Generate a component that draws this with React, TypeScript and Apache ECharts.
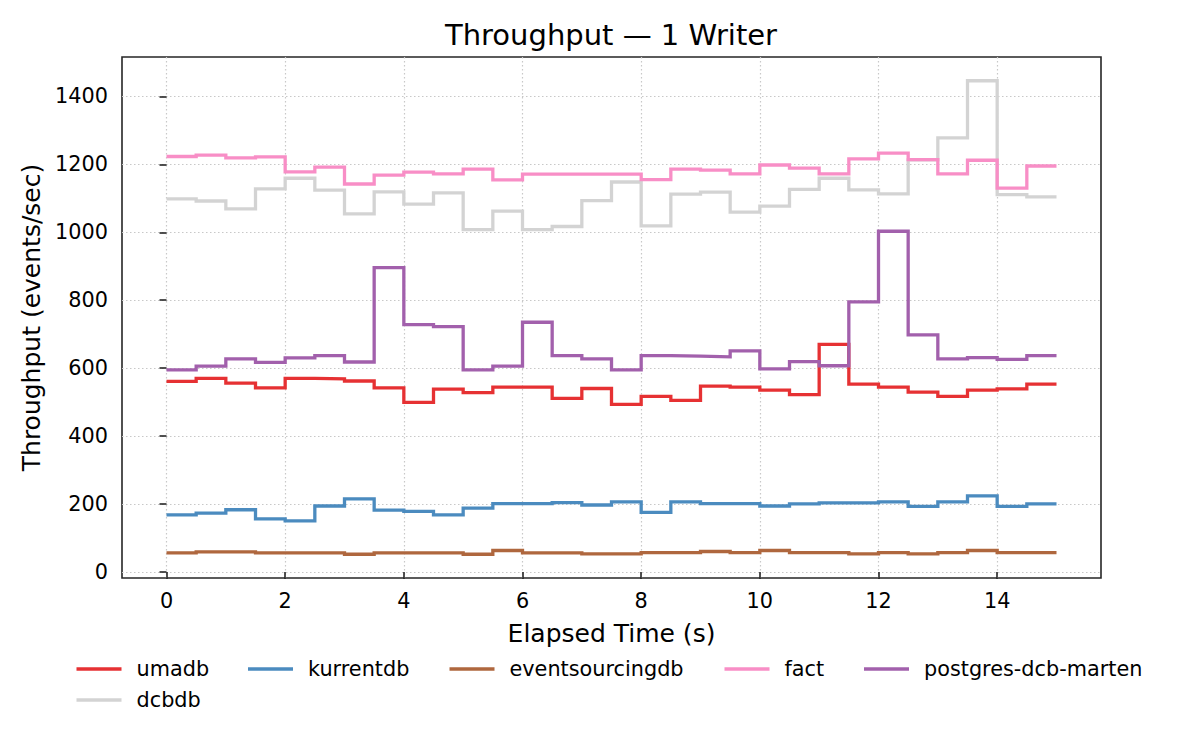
import React, { useEffect, useRef } from "react";
import * as echarts from "echarts";

const times = [0, 0.5, 1, 1.5, 2, 2.5, 3, 3.5, 4, 4.5, 5, 5.5, 6, 6.5, 7, 7.5, 8, 8.5, 9, 9.5, 10, 10.5, 11, 11.5, 12, 12.5, 13, 13.5, 14, 14.5, 15];

const umadb = [561, 570, 556, 542, 570, 568, 562, 542, 499, 538, 528, 544, 544, 511, 540, 493, 517, 505, 547, 544, 535, 522, 670, 553, 544, 529, 517, 535, 539, 553];
const kurrentdb = [168, 173, 183, 156, 150, 194, 215, 182, 178, 168, 188, 201, 201, 204, 197, 206, 175, 206, 201, 201, 194, 200, 203, 203, 206, 193, 206, 224, 193, 200];
const eventsourcingdb = [56, 59, 59, 56, 56, 56, 52, 56, 56, 56, 52, 63, 56, 56, 53, 53, 57, 57, 60, 57, 63, 57, 57, 53, 57, 53, 57, 63, 57, 57];
const fact = [1223, 1227, 1219, 1222, 1178, 1192, 1142, 1168, 1177, 1172, 1186, 1154, 1171, 1171, 1171, 1171, 1155, 1186, 1183, 1172, 1198, 1189, 1172, 1216, 1233, 1214, 1172, 1212, 1130, 1195];
const postgresDcbMarten = [595, 606, 627, 617, 630, 637, 618, 896, 728, 722, 595, 606, 735, 637, 627, 595, 637, 635, 633, 651, 598, 619, 607, 795, 1003, 698, 627, 631, 626, 637];
const dcbdb = [1098, 1092, 1069, 1128, 1159, 1124, 1054, 1119, 1083, 1116, 1008, 1062, 1008, 1017, 1093, 1148, 1019, 1112, 1118, 1059, 1077, 1126, 1159, 1125, 1113, 1213, 1278, 1446, 1111, 1104];

const xTicks = [0, 2, 4, 6, 8, 10, 12, 14];
const yTicks = [0, 200, 400, 600, 800, 1000, 1200, 1400];

const seriesDefs = [
  { name: "umadb", values: umadb, color: "#e63133", z: 2 },
  { name: "kurrentdb", values: kurrentdb, color: "#4b8bbf", z: 2 },
  { name: "eventsourcingdb", values: eventsourcingdb, color: "#af673e", z: 2 },
  { name: "fact", values: fact, color: "#f88ec6", z: 2 },
  { name: "postgres-dcb-marten", values: postgresDcbMarten, color: "#a260ac", z: 2 },
  { name: "dcbdb", values: dcbdb, color: "#d3d3d3", z: 1 },
];

const legendCols = [
  { names: ["umadb", "dcbdb"], left: 76.5 },
  { names: ["kurrentdb"], left: 248 },
  { names: ["eventsourcingdb"], left: 449.5 },
  { names: ["fact"], left: 724.5 },
  { names: ["postgres-dcb-marten"], left: 864 },
];

const FONT = "DejaVu Sans";

export default function App() {
  const ref = useRef<HTMLDivElement>(null);
  useEffect(() => {
    if (!ref.current) return;
    const chart = echarts.init(ref.current, null, { renderer: "svg" });
    const series = seriesDefs.map((s) => ({
      name: s.name,
      type: "line",
      step: "end",
      symbol: "none",
      showSymbol: false,
      silent: true,
      z: s.z,
      color: s.color,
      data: [
        ...s.values.map((v, i) => [times[i], v]),
        [times[s.values.length], s.values[s.values.length - 1]],
      ],
      lineStyle: { color: s.color, width: 3.3, join: "miter", cap: "butt" },
      itemStyle: { color: s.color },
    }));
    const tickLine = { color: "#262626", width: 1.6 };
    const gridLine = { color: "#c8c8c8", width: 1.2, type: [1.5, 2.5] };
    chart.setOption({
      animation: false,
      backgroundColor: "#ffffff",
      grid: {
        left: 122,
        top: 57,
        right: 99,
        bottom: 172,
        show: true,
        borderColor: "#262626",
        borderWidth: 1.6,
        backgroundColor: "transparent",
      },
      graphic: [
        {
          type: "text",
          x: 611,
          y: 35,
          style: {
            text: "Throughput — 1 Writer",
            fontSize: 29,
            fontFamily: FONT,
            fill: "#000",
            textAlign: "center",
            textVerticalAlign: "middle",
          },
        },
      ],
      legend: legendCols.map((c) => ({
        data: c.names,
        left: c.left,
        top: 657,
        orient: "vertical",
        itemGap: 7,
        icon: "rect",
        itemWidth: 45,
        itemHeight: 3.7,
        padding: 0,
        selectedMode: false,
        textStyle: {
          fontFamily: FONT,
          fontSize: 20.8,
          color: "#000",
          lineHeight: 24,
          padding: [0, 0, 0, 10],
        },
      })),
      xAxis: {
        type: "value",
        min: -0.75,
        max: 15.75,
        name: "Elapsed Time (s)",
        nameLocation: "middle",
        nameGap: 43,
        nameTextStyle: { fontSize: 25, fontFamily: FONT, color: "#000" },
        axisLine: { show: false },
        axisTick: { show: true, length: 7, lineStyle: tickLine, customValues: xTicks },
        axisLabel: {
          customValues: xTicks,
          formatter: (v: number) => String(v),
          fontSize: 20.8,
          fontFamily: FONT,
          color: "#000",
          margin: 12,
        },
        splitLine: { show: true, lineStyle: gridLine },
      },
      yAxis: {
        type: "value",
        min: -18,
        max: 1516,
        name: "Throughput (events/sec)",
        nameLocation: "middle",
        nameGap: 65,
        nameRotate: 90,
        nameTextStyle: { fontSize: 25, fontFamily: FONT, color: "#000" },
        axisLine: { show: false },
        axisTick: { show: true, length: 7, lineStyle: tickLine, customValues: yTicks },
        axisLabel: {
          customValues: yTicks,
          formatter: (v: number) => String(v),
          fontSize: 20.8,
          fontFamily: FONT,
          color: "#000",
          margin: 14,
        },
        splitLine: { show: true, lineStyle: gridLine },
      },
      series,
    });
    return () => chart.dispose();
  }, []);
  return (
    <div
      ref={ref}
      style={{ position: "fixed", left: 0, top: 0, width: 1200, height: 750, background: "#fff" }}
    />
  );
}
